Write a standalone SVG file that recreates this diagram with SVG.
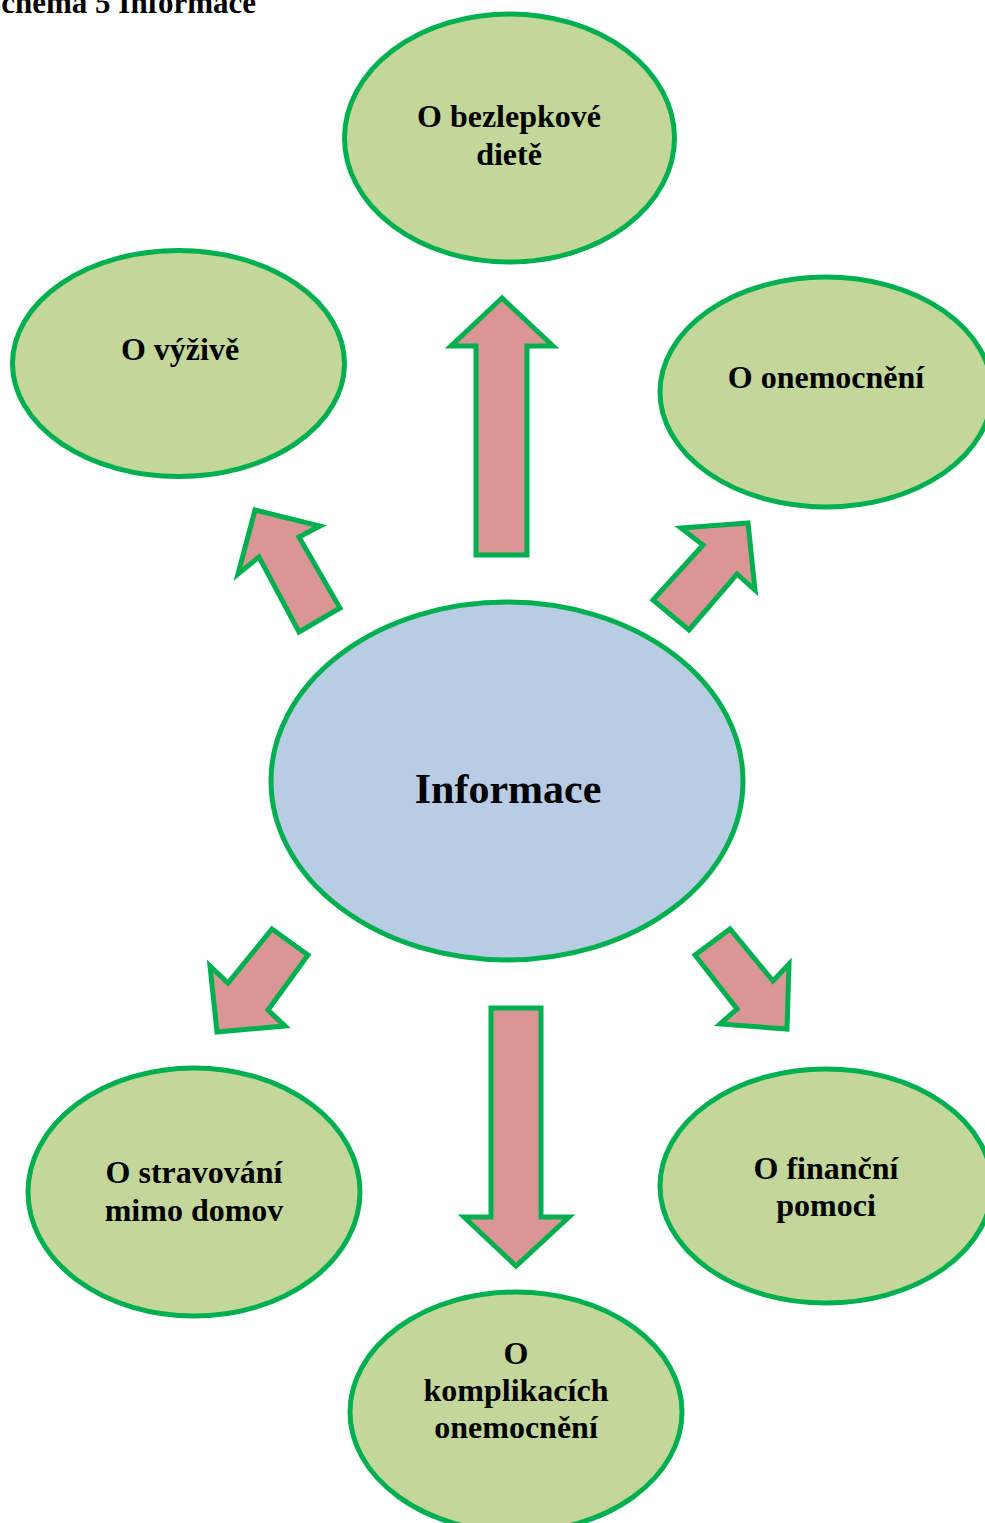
<svg xmlns="http://www.w3.org/2000/svg" width="985" height="1523" viewBox="0 0 985 1523">
  <style>
    .leaf { fill: #C4D79B; stroke: #00B050; stroke-width: 5; }
    .hub { fill: #B8CCE4; stroke: #00B050; stroke-width: 5; }
    .arrow { fill: #D99694; stroke: #00B050; stroke-width: 5; stroke-linejoin: miter; }
    text { font-family: "Liberation Serif", "Times New Roman", serif; font-weight: bold; fill: #000; text-anchor: middle; }
    .lbl { font-size: 32px; }
    .hubtxt { font-size: 42px; }
    .title { font-size: 31px; text-anchor: start; }
  </style>
  <rect width="985" height="1523" fill="#fff"/>

  <text class="title" x="-16" y="13">Schéma 5 Informace</text>

  <g id="connectors">
    <!-- up -->
    <polygon class="arrow" points="502,298 451,346 476,346 476,555 527,555 527,346 553,346"/>
    <!-- up-left -->
    <polygon class="arrow" points="255,510 320,526 299,537 340,608 299,632 259,557 238,574"/>
    <!-- up-right -->
    <polygon class="arrow" points="748,523 681,528 703,545 653,600 689,630 737,574 755,590"/>
    <!-- down-left -->
    <polygon class="arrow" points="272,929 308,955 268,1010 285,1026 217,1032 210,966 228,983"/>
    <!-- down-right -->
    <polygon class="arrow" points="695,955 730,929 773,981 789,964 787,1029 720,1024 737,1009"/>
    <!-- down -->
    <polygon class="arrow" points="491,1008 541,1008 541,1217 569,1217 516,1266 464,1217 491,1217"/>
  </g>

  <g id="node-dieta">
    <ellipse class="leaf" cx="509.5" cy="138" rx="165" ry="124"/>
    <text class="lbl" x="509" y="127">O bezlepkové</text>
    <text class="lbl" x="509" y="165">dietě</text>
  </g>
  <g id="node-vyziva">
    <ellipse class="leaf" cx="178.5" cy="363.5" rx="166" ry="113"/>
    <text class="lbl" x="180" y="360">O výživě</text>
  </g>
  <g id="node-onemocneni">
    <ellipse class="leaf" cx="826" cy="392" rx="166" ry="115"/>
    <text class="lbl" x="826" y="388">O onemocnění</text>
  </g>
  <g id="node-informace">
    <ellipse class="hub" cx="507" cy="781" rx="236" ry="179"/>
    <text class="hubtxt" x="508" y="803">Informace</text>
  </g>
  <g id="node-stravovani">
    <ellipse class="leaf" cx="194" cy="1192" rx="166" ry="124"/>
    <text class="lbl" x="194" y="1183">O stravování</text>
    <text class="lbl" x="194" y="1221">mimo domov</text>
  </g>
  <g id="node-financni">
    <ellipse class="leaf" cx="826" cy="1186" rx="166" ry="117"/>
    <text class="lbl" x="826" y="1179">O finanční</text>
    <text class="lbl" x="826" y="1216">pomoci</text>
  </g>
  <g id="node-komplikace">
    <ellipse class="leaf" cx="516" cy="1412" rx="166" ry="120"/>
    <text class="lbl" x="516" y="1364">O</text>
    <text class="lbl" x="516" y="1401">komplikacích</text>
    <text class="lbl" x="516" y="1438">onemocnění</text>
  </g>
</svg>
